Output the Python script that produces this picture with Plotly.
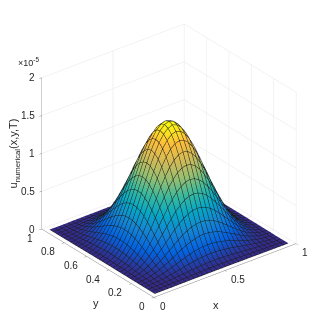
#!/usr/bin/env python3
"""Surface plot of the numerical solution u(x,y,T)"""

import numpy as np
import plotly.graph_objects as go

# mesh nodes (interior nodes only, the surface stops short of the box)
grid_left = [0.03125, 0.0625, 0.09375, 0.125, 0.15625, 0.1875, 0.21875, 0.25, 0.28125, 0.3125,
             0.34375, 0.375, 0.40625, 0.4375, 0.46875, 0.5]
grid_right = [0.53125, 0.5625, 0.59375, 0.625, 0.65625, 0.6875, 0.71875, 0.75, 0.78125, 0.8125,
              0.84375, 0.875, 0.90625, 0.9375, 0.96875]

# one quarter of the surface, in units of 1e-5
quarter = [
    [.000, .000, .000, .000, .000, .001, .001, .001, .002, .002, .002, .002, .003, .003, .003, .003],
    [.000, .000, .001, .001, .002, .004, .005, .007, .009, .011, .013, .015, .016, .017, .018, .018],
    [.000, .001, .002, .004, .007, .011, .016, .021, .027, .032, .038, .043, .047, .050, .053, .054],
    [.000, .001, .004, .009, .015, .023, .033, .045, .057, .069, .081, .092, .101, .108, .113, .114],
    [.000, .002, .007, .015, .026, .041, .058, .078, .099, .121, .142, .161, .177, .189, .197, .199],
    [.001, .004, .011, .023, .041, .064, .091, .122, .155, .189, .222, .252, .277, .296, .308, .312],
    [.001, .005, .016, .033, .058, .091, .130, .174, .221, .269, .316, .359, .394, .421, .438, .444],
    [.001, .007, .021, .045, .078, .122, .174, .234, .297, .361, .424, .481, .529, .565, .588, .596],
    [.002, .009, .027, .057, .099, .155, .221, .297, .378, .460, .540, .613, .674, .720, .749, .758],
    [.002, .011, .032, .069, .121, .189, .269, .361, .460, .558, .656, .744, .818, .874, .909, .921],
    [.002, .013, .038, .081, .142, .222, .316, .424, .540, .656, .770, .874, .961, 1.027, 1.068, 1.082],
    [.002, .015, .043, .092, .161, .252, .359, .481, .613, .744, .874, .992, 1.091, 1.165, 1.212, 1.228],
    [.003, .016, .047, .101, .177, .277, .394, .529, .674, .818, .961, 1.091, 1.199, 1.281, 1.332, 1.350],
    [.003, .017, .050, .108, .189, .296, .421, .565, .720, .874, 1.027, 1.165, 1.281, 1.368, 1.423, 1.442],
    [.003, .018, .053, .113, .197, .308, .438, .588, .749, .909, 1.068, 1.212, 1.332, 1.423, 1.480, 1.500],
    [.003, .018, .054, .114, .199, .312, .444, .596, .758, .921, 1.082, 1.228, 1.350, 1.442, 1.500, 1.520],
]

x_ticks = [0, 0.5, 1]
x_tick_labels = ["0", "0.5", "1"]
y_ticks = [0, 0.2, 0.4, 0.6, 0.8, 1]
y_tick_labels = ["0", "0.2", "0.4", "0.6", "0.8", "1"]
z_ticks = [0, 0.5, 1, 1.5, 2]
z_tick_labels = ["0", "0.5", "1", "1.5", "2"]

parula = [
    [0.0, "#352a87"], [0.125, "#0363e1"], [0.25, "#1485d4"], [0.375, "#06a7c6"],
    [0.5, "#38b99e"], [0.625, "#92bf73"], [0.75, "#d0ba58"], [0.875, "#fdbe3a"],
    [1.0, "#f9fb0e"],
]

FONT = "Liberation Sans, Arial, sans-serif"
TEXT = "#262626"

# complete the surface by its symmetry
q = np.array(quarter)
left = np.hstack([q, q[:, -2::-1]])
z_grid = np.vstack([left, left[14::-1]])
grid = grid_left + grid_right

fig = go.Figure(
    go.Surface(
        x=grid,
        y=grid,
        z=z_grid,
        colorscale=parula,
        cmin=0,
        cmax=1.52,
        showscale=False,
        lighting=dict(ambient=1, diffuse=0, specular=0, roughness=1, fresnel=0),
        contours=dict(
            x=dict(show=True, start=0.03125, end=0.97, size=0.03125, color="#1c1c1c", width=1),
            y=dict(show=True, start=0.03125, end=0.97, size=0.03125, color="#1c1c1c", width=1),
        ),
    )
)

axis_style = dict(
    showbackground=False,
    showgrid=True,
    gridcolor="#e6e6e6",
    gridwidth=1,
    zeroline=False,
    showline=True,
    linecolor="#7f7f7f",
    linewidth=1,
    ticks="outside",
    ticklen=3,
    tickcolor="#7f7f7f",
    showticklabels=False,
    title=dict(text=""),
    showspikes=False,
)


def label(text, x, y, z, xanchor, xshift, yshift, size=10, angle=0):
    return dict(text=text, x=x, y=y, z=z, xanchor=xanchor, yanchor="middle", xshift=xshift, yshift=yshift,
                textangle=angle, showarrow=False, font=dict(family=FONT, size=size, color=TEXT))


# tick labels and titles sit at fixed offsets from the axis points
scene_labels = []
for v, t in zip(x_ticks, x_tick_labels):
    scene_labels.append(label(t, v, 0, 0, "left", 4, -9))
for v, t in zip(y_ticks, y_tick_labels):
    scene_labels.append(label(t, 0, v, 0, "right", -7, -9))
for v, t in zip(z_ticks, z_tick_labels):
    scene_labels.append(label(t, 0, 1, v, "right", -5, 0))
scene_labels.append(label("x", 0.5, 0, 0, "center", -9, -34, size=11))
scene_labels.append(label("y", 0, 0.5, 0, "center", -2, -40, size=11))
scene_labels.append(label("u<sub>numerical</sub>(x,y,T)", 0, 1, 1, "center", -28, 0, size=11, angle=-90))

fig.update_layout(
    width=327,
    height=335,
    paper_bgcolor="white",
    margin=dict(l=0, r=0, t=0, b=0),
    showlegend=False,
    scene=dict(
        domain=dict(x=[0.04, 1], y=[0.032, 1]),
        aspectmode="manual",
        aspectratio=dict(x=1.118, y=1.118, z=1.065),
        camera=dict(
            projection=dict(type="orthographic"),
            up=dict(x=0, y=0, z=1),
            center=dict(x=0.044, y=-0.034, z=-0.066),
            eye=dict(x=-0.806, y=-1.114, z=0.686),
        ),
        xaxis=dict(axis_style, range=[0, 1], tickvals=x_ticks),
        yaxis=dict(axis_style, range=[0, 1], tickvals=y_ticks),
        zaxis=dict(axis_style, range=[0, 2], tickvals=z_ticks),
        annotations=scene_labels,
    ),
    annotations=[
        dict(text="×10<sup>-5</sup>", xref="paper", yref="paper", x=0.025, y=0.839,
             xanchor="left", yanchor="middle", showarrow=False,
             font=dict(family=FONT, size=9, color=TEXT)),
    ],
)

fig.write_html("out.html")
